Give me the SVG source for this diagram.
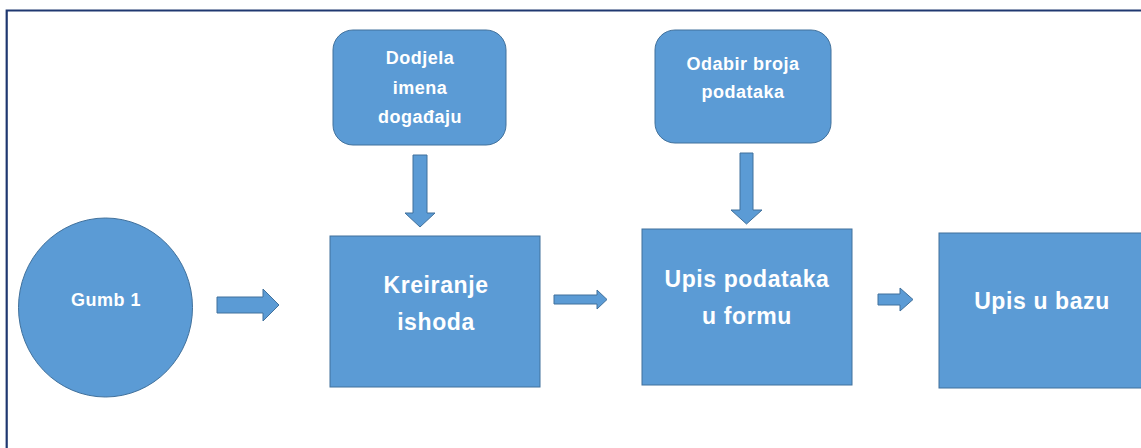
<svg xmlns="http://www.w3.org/2000/svg" width="1141" height="448" viewBox="0 0 1141 448">
  <style>
    .shape { fill: #5b9bd5; stroke: #41719c; stroke-width: 1; }
    .arrow { fill: #5b9bd5; stroke: #41719c; stroke-width: 1; stroke-linejoin: miter; }
    .small { font-family: "Liberation Sans", Arial, sans-serif; font-weight: bold; font-size: 18px; letter-spacing: 0.5px; fill: #ffffff; text-anchor: middle; }
    .big { font-family: "Liberation Sans", Arial, sans-serif; font-weight: bold; font-size: 23px; letter-spacing: 0.6px; fill: #ffffff; text-anchor: middle; }
    .frame { fill: none; stroke: #1f3870; stroke-width: 2.2; }
  </style>
  <rect x="0" y="0" width="1141" height="448" fill="#ffffff"/>
  <path class="frame" d="M6.7 452 V10.5 H1146"/>

  <g id="node-gumb1">
    <ellipse class="shape" cx="105.5" cy="307.5" rx="87" ry="89.5"/>
    <text class="small" x="106" y="306">Gumb 1</text>
  </g>

  <g id="node-dodjela">
    <rect class="shape" x="333" y="30" width="173" height="115" rx="20" ry="20"/>
    <text class="small" x="420" y="64">Dodjela</text>
    <text class="small" x="420" y="94">imena</text>
    <text class="small" x="420" y="123">događaju</text>
  </g>

  <g id="node-odabir">
    <rect class="shape" x="655" y="30" width="176" height="113" rx="20" ry="20"/>
    <text class="small" x="743" y="70">Odabir broja</text>
    <text class="small" x="743" y="98">podataka</text>
  </g>

  <g id="node-kreiranje">
    <rect class="shape" x="330" y="236" width="210" height="151"/>
    <text class="big" x="436" y="293">Kreiranje</text>
    <text class="big" x="436" y="330">ishoda</text>
  </g>

  <g id="node-upis-forma">
    <rect class="shape" x="642" y="229" width="210" height="156"/>
    <text class="big" x="747" y="287">Upis podataka</text>
    <text class="big" x="747" y="324">u formu</text>
  </g>

  <g id="node-upis-baza">
    <rect class="shape" x="939" y="233" width="206" height="155"/>
    <text class="big" x="1042" y="309">Upis u bazu</text>
  </g>

  <g id="connectors">
    <path class="arrow" d="M217 297 H263 V289 L279 305 L263 321 V313 H217 Z"/>
    <path class="arrow" d="M554 295 H597 V290 L607 299.5 L597 309 V304 H554 Z"/>
    <path class="arrow" d="M878 294 H900 V288 L913 299.5 L900 311 V305 H878 Z"/>
    <path class="arrow" d="M413 155 H427 V213 H435 L420 227 L405 213 H413 Z"/>
    <path class="arrow" d="M740 153 H753 V210 H762 L746.5 224 L731 210 H740 Z"/>
  </g>
</svg>
